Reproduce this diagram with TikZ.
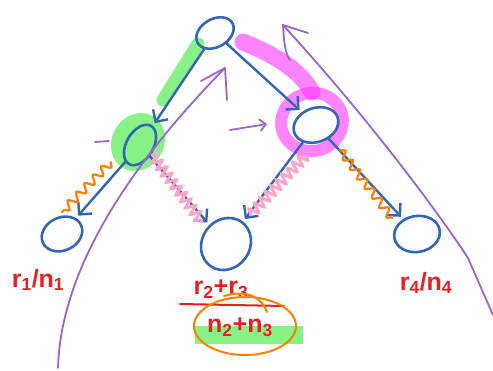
\documentclass[tikz,border=0pt]{standalone}
\usepackage{fontspec}
\setmainfont{Liberation Sans}
\usetikzlibrary{shapes.geometric,arrows.meta,decorations.pathmorphing}
\definecolor{inkblue}{HTML}{3565B5}
\definecolor{hlgreen}{HTML}{60F060}
\definecolor{hlmag}{HTML}{FF33FF}
\definecolor{inkorange}{HTML}{FF8000}
\definecolor{inkpink}{HTML}{FFA5C8}
\definecolor{inkpurple}{HTML}{9A66CC}
\definecolor{inkred}{HTML}{EE1C24}
\tikzset{
  vertex/.style={draw=inkblue, line width=2.6pt, ellipse, inner sep=0pt},
  edge/.style={draw=inkblue, line width=2.4pt, line cap=round,
    -{Straight Barb[length=9pt,width=18pt,line width=2.4pt]}, shorten >=3pt},
  zig/.style={draw=inkorange, line width=2.2pt, line cap=round, decorate,
    decoration={snake, amplitude=4pt, segment length=12pt}},
  wig/.style={draw=inkpink, line width=2.8pt, line cap=round, decorate,
    decoration={snake, amplitude=5pt, segment length=8pt}},
  sweep/.style={draw=inkpurple, line width=1.8pt, line cap=round},
  lbl/.style={text=inkred, font=\fontsize{25}{27}\selectfont\bfseries, inner sep=1pt},
}
\begin{document}
\begin{tikzpicture}[x=1pt,y=-1pt]
\useasboundingbox (0,0) rectangle (493,370);
\fill[white] (0,0) rectangle (493,370);

% highlighter strokes behind the tree
\draw[hlgreen, opacity=0.75, line width=13pt, line cap=round] (198,44) -- (163,100);
\fill[hlgreen, opacity=0.75, rotate around={60:(138,142)}] (138,142) ellipse (30pt and 26pt);
\draw[hlmag, opacity=0.6, line width=17pt, line cap=round]
  (243,42) .. controls (275,55) and (300,70) .. (312,92);
\draw[hlmag, opacity=0.6, line width=12pt, rotate around={15:(312,122)}] (312,122) ellipse (31pt and 29pt);

% tree vertices
\node[vertex, minimum width=40pt, minimum height=28pt, rotate=30] (root) at (215,33) {};
\node[vertex, minimum width=44pt, minimum height=27pt, rotate=60] (lm) at (140,145) {};
\node[vertex, minimum width=46pt, minimum height=34pt, rotate=20] (rm) at (316,125) {};
\node[vertex, minimum width=42pt, minimum height=33pt, rotate=25] (l1) at (62,234) {};
\node[vertex, minimum width=54pt, minimum height=48pt, rotate=55] (l2) at (226,244) {};
\node[vertex, minimum width=46pt, minimum height=36pt, rotate=10] (l4) at (417,234) {};

% tree edges
\draw[edge] (root) -- (lm);
\draw[edge] (root) -- (rm);
\draw[edge] (lm) -- (l1);
\draw[edge] (lm) -- (l2);
\draw[edge] (rm) -- (l2);
\draw[edge] (rm) -- (l4);

% wavy strokes along the lower edges
\coordinate (z1a) at (111,162);
\coordinate (z1b) at (62,212);
\coordinate (z4a) at (340,150);
\coordinate (z4b) at (392,218);
\coordinate (w2a) at (152,155);
\coordinate (w2b) at (202,222);
\coordinate (w3a) at (306,155);
\coordinate (w3b) at (250,215);
\draw[zig] (z1a) -- (z1b);
\draw[zig] (z4a) -- (z4b);
\draw[wig] (w2a) -- (w2b);
\draw[wig] (w3a) -- (w3b);

% purple sweeps
\coordinate (la) at (225,68);
\coordinate (ra) at (283,25);
\draw[sweep] (58,368) .. controls (60,290) and (105,190) .. (la);
\draw[sweep] (la) -- (201,81);
\draw[sweep] (la) -- (227,100);
\draw[sweep] (ra) .. controls (370,120) and (440,215) .. (468,258) -- (493,315);
\draw[sweep] (ra) -- (308,33);
\draw[sweep] (ra) .. controls (284,45) and (286,55) .. (290,60);
\coordinate (pa) at (230,130);
\coordinate (pb) at (267,124);
\draw[sweep, -{Straight Barb[length=6pt,width=12pt,line width=1.8pt]}] (pa) -- (pb);
\coordinate (da) at (95,142);
\coordinate (db) at (109,141);
\draw[sweep] (da) -- (db);

% leaf labels
\node[lbl] (t1) at (38,280) {r\textsubscript{1}/n\textsubscript{1}};
\node[lbl] (t4) at (426,283) {r\textsubscript{4}/n\textsubscript{4}};

% fraction under the middle leaf
\fill[hlgreen, opacity=0.75] (195,326) rectangle (303,344);
\node[lbl] (num) at (221,289) {r\textsubscript{2}+r\textsubscript{3}};
\coordinate (fa) at (180,304);
\coordinate (fb) at (284,306);
\draw[inkred, line width=2pt, line cap=round] (fa) -- (fb);
\node[lbl] (den) at (240,327) {n\textsubscript{2}+n\textsubscript{3}};
\draw[inkorange, line width=2pt] (245,326) ellipse (51pt and 29pt);
\draw[inkorange, line width=2pt, line cap=round]
  (224,296) .. controls (248,289) and (262,298) .. (267,312);
\end{tikzpicture}
\end{document}
